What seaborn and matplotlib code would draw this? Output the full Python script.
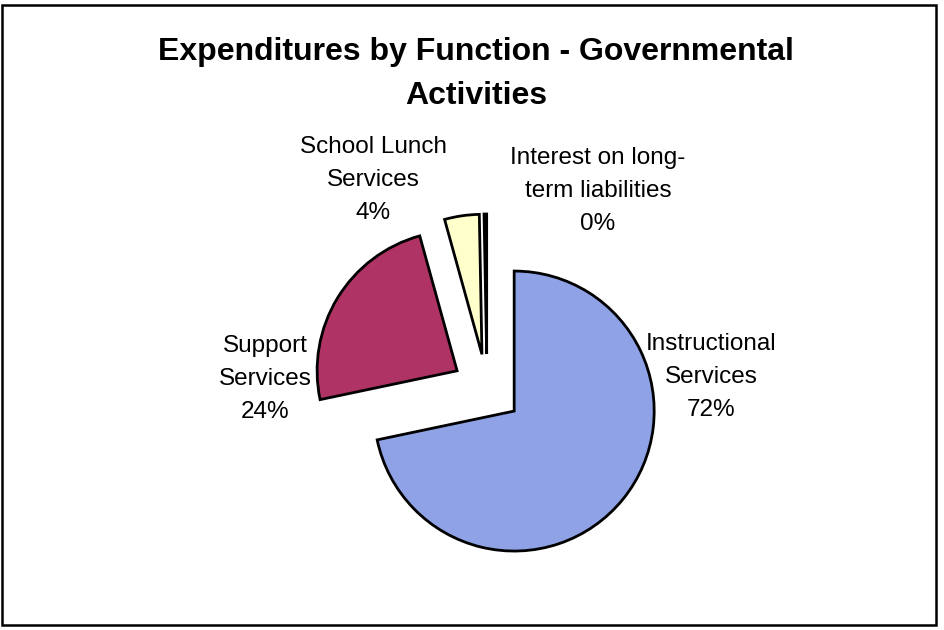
import matplotlib
matplotlib.use("Agg")
import matplotlib.pyplot as plt
import matplotlib.patches as mpatches
import seaborn as sns

# Expenditure shares by function (percent of total)
categories = ["Instructional\nServices", "Support\nServices",
              "School Lunch\nServices", "Interest on long-\nterm liabilities"]
shares = [71.7, 24.0, 4.0, 0.3]
colors = ["#8fa2e6", "#b03366", "#ffffcc", "#1c1c4a"]

sns.set_theme(style="white")
plt.rcParams["font.family"] = ["Liberation Sans Narrow", "Liberation Sans", "DejaVu Sans"]
plt.rcParams["text.color"] = "black"

W, H = 945, 630
fig = plt.figure(figsize=(W / 100, H / 100), dpi=100)
ax = fig.add_axes([0, 0, 1, 1])

# pie centre and size in pixel units (y measured from the bottom)
cx, cy, r = 487, H - 389, 140
ax.pie(shares, colors=colors, startangle=90, counterclock=False,
       explode=[35] * len(shares), center=(cx, cy), radius=r,
       wedgeprops=dict(edgecolor="black", linewidth=2))
ax.set_xlim(0, W)
ax.set_ylim(0, H)
ax.set_aspect("equal")
ax.axis("off")

# outer chart frame
ax.add_patch(mpatches.Rectangle((2, H - 625), 934, 620, fill=False,
                                edgecolor="black", linewidth=1.8, clip_on=False))

ax.text(476, H - 74, "Expenditures by Function - Governmental\nActivities",
        ha="center", va="center", fontsize=23, fontweight="bold",
        linespacing=1.6, color="black")

label_pos = [(711, H - 377), (265, H - 379), (373, H - 180), (598, H - 191)]
for name, val, (x, y) in zip(categories, shares, label_pos):
    ax.text(x, y, f"{name}\n{round(val)}%", ha="center", va="center",
            fontsize=17.5, linespacing=1.62, color="black")

fig.savefig("out.png", dpi=100)
